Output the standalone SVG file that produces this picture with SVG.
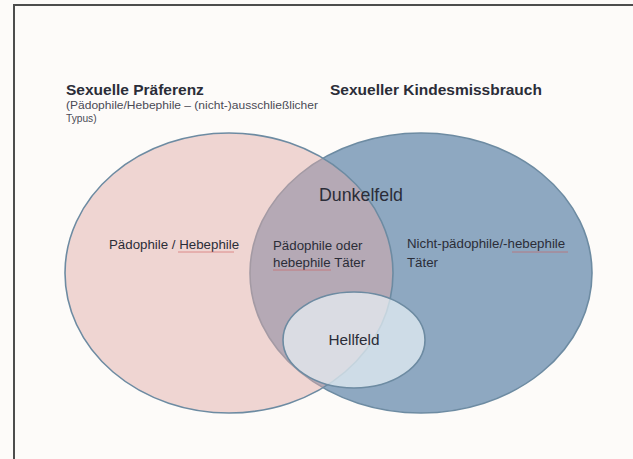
<svg xmlns="http://www.w3.org/2000/svg" width="633" height="459" viewBox="0 0 633 459">
  <style>
    .t { font-family: "Liberation Sans", Arial, sans-serif; fill: #2b2d38; }
    .h { font-weight: bold; font-size: 15.5px; }
    .sub { font-size: 10.2px; fill: #4a4a55; }
    .lbl { font-size: 13.3px; }
    .ring { stroke: #6d8ba2; stroke-width: 1.6; }
    .spell { stroke: #d05a5a; stroke-width: 1; fill: none; opacity: 0.6; }
  </style>
  <rect x="0" y="0" width="633" height="459" fill="#fdfbf9"/>
  <path d="M14,459 V5 H633" fill="none" stroke="#4d4d4d" stroke-width="2"/>

  <g id="title-left">
    <text class="t h" x="66" y="95">Sexuelle Präferenz</text>
    <text class="t sub" x="66" y="109" textLength="252" lengthAdjust="spacingAndGlyphs">(Pädophile/Hebephile – (nicht-)ausschließlicher</text>
    <text class="t sub" x="66" y="122">Typus)</text>
  </g>
  <g id="title-right">
    <text class="t h" x="330" y="95">Sexueller Kindesmissbrauch</text>
  </g>

  <g id="set-abuse">
    <ellipse cx="421" cy="273" rx="171" ry="140" fill="#8ea8c1" class="ring"/>
  </g>
  <g id="set-preference">
    <ellipse cx="229" cy="273" rx="164" ry="140" fill="#e0aca8" fill-opacity="0.48" class="ring"/>
  </g>
  <g id="hellfeld">
    <ellipse cx="354" cy="340" rx="71" ry="48" fill="#eaf2f6" fill-opacity="0.7" class="ring"/>
    <text class="t" x="354" y="345" font-size="15.3px" text-anchor="middle">Hellfeld</text>
  </g>

  <g id="dunkelfeld">
    <text class="t" x="361" y="201" font-size="17.8px" text-anchor="middle">Dunkelfeld</text>
  </g>
  <g id="label-left">
    <text class="t lbl" x="109" y="249" font-size="12.8px">Pädophile / Hebephile</text>
    <path class="spell" d="M178,252 H234"/>
  </g>
  <g id="label-middle">
    <text class="t lbl" x="273" y="250">Pädophile oder</text>
    <text class="t lbl" x="273" y="267">hebephile Täter</text>
    <path class="spell" d="M273,270 H331"/>
  </g>
  <g id="label-right">
    <text class="t lbl" x="407" y="248">Nicht-pädophile/-hebephile</text>
    <text class="t lbl" x="407" y="267">Täter</text>
    <path class="spell" d="M512,252 H568"/>
  </g>
</svg>
